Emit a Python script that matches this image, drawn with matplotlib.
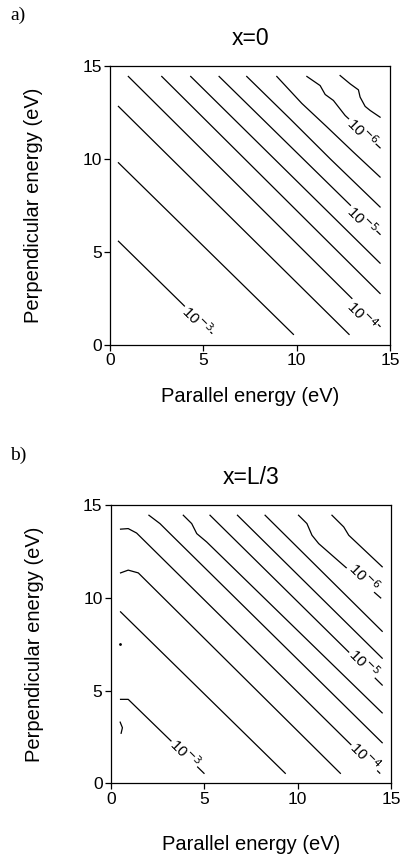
import matplotlib
matplotlib.use("Agg")
import matplotlib.pyplot as plt

plt.rcParams['font.family'] = ['Liberation Sans', 'DejaVu Sans']

# contour lines: parallel / perpendicular energy (eV)
a_par = [
    [0.45, 3.84, 5.45],
    [0.45, 9.82],
    [0.45, 12.8],
    [0.98, 14.46],
    [2.77, 14.46],
    [4.32, 14.46],
    [5.84, 14.46],
    [7.32, 9.6, 11.8, 14.46],
    [8.93, 10.27, 11.6, 13.0, 14.46],
    [10.54, 11.25, 11.52, 11.96, 12.59, 14.46],
    [12.32, 12.86, 13.3, 13.39, 13.66, 13.93, 14.46],
]
a_perp = [
    [5.58, 2.24, 0.63],
    [9.8, 0.57],
    [12.83, 0.57],
    [14.44, 1.0],
    [14.44, 2.77],
    [14.44, 4.4],
    [14.44, 5.95],
    [14.44, 12.2, 10.0, 7.42],
    [14.44, 12.99, 11.74, 10.4, 9.03],
    [14.44, 13.95, 13.47, 13.15, 12.34, 10.6],
    [14.49, 14.04, 13.72, 13.33, 12.83, 12.61, 12.25],
]

b_par = [
    [0.52, 0.93, 3.26, 4.99],
    [0.52, 9.34],
    [0.52, 0.93, 1.47, 12.29],
    [0.52, 0.93, 1.38, 14.4],
    [2.04, 2.63, 3.17, 14.53],
    [3.88, 4.33, 4.6, 5.13, 14.53],
    [5.31, 14.53],
    [6.78, 14.53],
    [8.26, 14.53],
    [10.05, 10.5, 10.77, 11.13, 14.45],
    [11.84, 12.47, 12.74, 14.53],
    [0.5, 0.62, 0.55],
]
b_perp = [
    [4.53, 4.53, 2.25, 0.54],
    [9.25, 0.54],
    [11.35, 11.5, 11.35, 0.54],
    [13.71, 13.74, 13.5, 0.55],
    [14.46, 14.01, 13.47, 2.19],
    [14.46, 14.01, 13.47, 13.02, 3.8],
    [14.46, 5.3],
    [14.46, 6.75],
    [14.46, 8.2],
    [14.46, 14.01, 13.38, 12.93, 10.0],
    [14.46, 13.83, 13.38, 11.68],
    [3.3, 3.0, 2.7],
]
b_dot = (0.48, 7.5)

level_labels = ['10$^{-3}$', '10$^{-4}$', '10$^{-5}$', '10$^{-6}$']
a_label_par = [4.64, 13.48, 13.48, 13.48]
a_label_perp = [1.34, 1.61, 6.71, 11.45]
b_label_par = [3.97, 13.63, 13.54, 13.54]
b_label_perp = [1.62, 1.44, 6.47, 11.14]

ticks = [0, 5, 10, 15]


def draw_panel(ax, par, perp, lab_x, lab_y, title, tag):
    for xs, ys in zip(par, perp):
        ax.plot(xs, ys, color='black', lw=0.9)
    for t, x, y in zip(level_labels, lab_x, lab_y):
        ax.text(x, y, t, fontsize=11, rotation=-45, rotation_mode='anchor',
                ha='center', va='center',
                bbox=dict(fc='white', ec='none', pad=0.8), zorder=5)
    ax.set_xlim(0, 15)
    ax.set_ylim(0, 15)
    ax.set_xticks(ticks)
    ax.set_yticks(ticks)
    ax.tick_params(direction='out', length=4, width=0.9, labelsize=12.5, pad=2)
    for s in ax.spines.values():
        s.set_linewidth(0.9)
    ax.set_title(title, fontsize=16.5, pad=15)
    ax.set_xlabel('Parallel energy (eV)', fontsize=14.5)
    ax.set_ylabel('Perpendicular energy (eV)', fontsize=14.5)
    ax.yaxis.set_label_coords(-0.24, 0.5)
    ax.text(-0.33, 1.18, tag, transform=ax.transAxes, fontsize=14,
            family='Liberation Serif', ha='center', va='center')


fig = plt.figure(figsize=(4.06, 8.61), dpi=100)
ax_a = fig.add_axes([0.271, 0.5993, 0.690, 0.324])
ax_b = fig.add_axes([0.273, 0.0902, 0.690, 0.323])

draw_panel(ax_a, a_par, a_perp, a_label_par, a_label_perp, 'x=0', 'a)')
ax_a.xaxis.set_label_coords(0.5, -0.15)

draw_panel(ax_b, b_par, b_perp, b_label_par, b_label_perp, 'x=L/3', 'b)')
ax_b.plot([b_dot[0]], [b_dot[1]], marker='.', color='black', ms=2)
ax_b.xaxis.set_label_coords(0.5, -0.185)

fig.savefig('out.png', dpi=100)
